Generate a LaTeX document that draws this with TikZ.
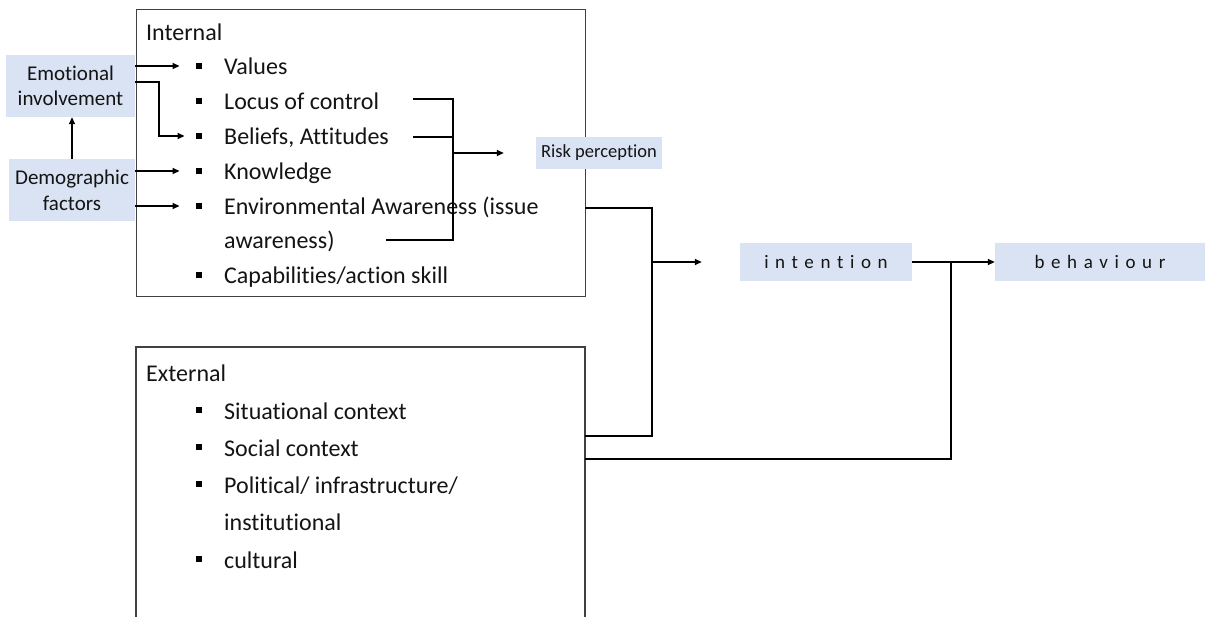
\documentclass[tikz,border=0pt]{standalone}
\usepackage{fontspec}
\setmainfont{Carlito}[Ligatures=NoCommon]
\newfontfamily\spaced{Carlito}[LetterSpace=35,Ligatures=NoCommon]
\usetikzlibrary{arrows.meta}
\definecolor{boxblue}{HTML}{DAE3F3}
\definecolor{txt}{HTML}{141414}
\tikzset{
  panel/.style={draw=black!75, line width=1.2pt, fill=white, inner sep=0},
  bluebox/.style={fill=boxblue, inner sep=0, text=txt, align=center},
  itemtext/.style={anchor=base west, inner sep=0, text=txt, font=\fontsize{24}{29}\selectfont},
  bul/.style={fill=black, minimum size=6.5pt, inner sep=0},
  conn/.style={line width=1.6pt, black},
  arr/.style={conn, -{Triangle[length=7pt,width=6pt]}}
}
\begin{document}
\begin{tikzpicture}[x=1pt,y=-1pt]
\useasboundingbox (0,0) rectangle (1205,616);
% Internal panel
\node[panel, minimum width=449pt, minimum height=287pt, anchor=north west] (intbox) at (136,9) {};
% External panel (open at the bottom)
\coordinate (extBL) at (136,617);
\coordinate (extTL) at (136,347);
\coordinate (extTR) at (585,347);
\coordinate (extBR) at (585,617);
\draw[draw=black!75, line width=1.2pt] (extBL) -- (extTL) -- (extTR) -- (extBR);

% Internal texts
\node[itemtext] (intlab) at (146,40) {Internal};
\node[bul] (bval) at (199,66) {};
\node[itemtext] (tval) at (224,74) {Values};
\node[bul] (bloc) at (199,101) {};
\node[itemtext] (tloc) at (224,109) {Locus of control};
\node[bul] (bbel) at (199,136) {};
\node[itemtext] (tbel) at (224,144) {Beliefs, Attitudes};
\node[bul] (bkno) at (199,171) {};
\node[itemtext] (tkno) at (224,179) {Knowledge};
\node[bul] (benv) at (199,206) {};
\node[itemtext] (tenv) at (224,214) {Environmental Awareness (issue};
\node[itemtext] (tenv2) at (224,248) {awareness)};
\node[bul] (bcap) at (199,275) {};
\node[itemtext] (tcap) at (224,283) {Capabilities/action skill};

% External texts
\node[itemtext] (extlab) at (146,381) {External};
\node[bul] (bsit) at (199,410) {};
\node[itemtext] (tsit) at (224,419) {Situational context};
\node[bul] (bsoc) at (199,447) {};
\node[itemtext] (tsoc) at (224,456) {Social context};
\node[bul] (bpol) at (199,484) {};
\node[itemtext] (tpol) at (224,493) {Political/ infrastructure/};
\node[itemtext] (tpol2) at (224,530) {institutional};
\node[bul] (bcul) at (199,559) {};
\node[itemtext] (tcul) at (224,568) {cultural};

% Blue boxes
\node[bluebox, minimum width=129pt, minimum height=62pt, font=\fontsize{21}{25}\selectfont] (emo) at (70.5,86) {Emotional\\involvement};
\node[bluebox, minimum width=126pt, minimum height=62pt, font=\fontsize{21}{26}\selectfont] (dem) at (72,190) {Demographic\\factors};
\node[bluebox, minimum width=126pt, minimum height=32pt, font=\fontsize{18.5}{22}\selectfont] (risk) at (599,153) {Risk perception};
\node[bluebox, minimum width=172pt, minimum height=38pt, font=\spaced\fontsize{19}{22}\selectfont] (intn) at (826,262) {intention};
\node[bluebox, minimum width=210pt, minimum height=38pt, font=\spaced\fontsize{19}{22}\selectfont] (beh) at (1100,262) {behaviour};

% Left arrows
\draw[arr] (dem.north) -- (dem.north |- emo.south);
\draw[arr] (emo.east |- bval) -- ([xshift=-16pt]bval.west);
\draw[arr] ([yshift=4pt]emo.east) -- ++(24,0) |- ([xshift=-11pt]bbel.west);
\draw[arr] (dem.east |- bkno) -- ([xshift=-16pt]bkno.west);
\draw[arr] (dem.east |- benv) -- ([xshift=-16pt]benv.west);

% Bracket to risk perception
\coordinate (lc) at (413,99);
\coordinate (bl) at (413,137);
\coordinate (aw) at (386,240);
\coordinate (bx) at (453,153);
\draw[conn] (lc) -| (bx |- aw) -- (aw);
\draw[conn] (bl) -- (bx |- bl);
\draw[arr] (bx) -- ([xshift=-32pt]risk.west);

% Bracket to intention
\coordinate (ia) at (585,208);
\coordinate (bj) at (652,208);
\coordinate (eb) at (585,436);
\draw[conn] (ia) -- (bj) |- (eb);
\draw[arr] (bj |- intn.west) -- ([xshift=-38pt]intn.west);

% intention -> behaviour, external -> behaviour
\draw[arr] (intn.east) -- (beh.west);
\coordinate (ec) at (585,459);
\coordinate (vj) at (951,262);
\draw[conn] (ec) -| (vj);
\end{tikzpicture}
\end{document}
